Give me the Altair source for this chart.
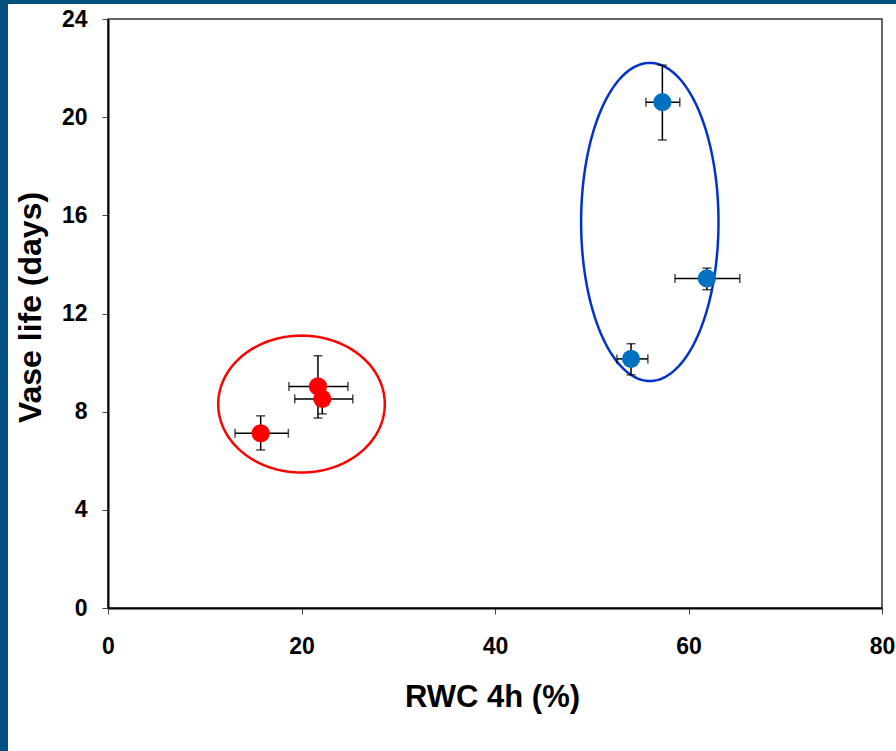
import altair as alt
import pandas as pd
import numpy as np

# ---- data ----
red_x = [15.78, 21.7, 22.15]
red_y = [7.12, 9.03, 8.52]
red_xlo = [13.13, 18.7, 19.3]
red_xhi = [18.64, 24.8, 25.3]
red_ylo = [6.44, 7.74, 7.91]
red_yhi = [7.83, 10.28, 9.13]

blue_x = [57.3, 61.9, 54.06]
blue_y = [20.61, 13.43, 10.15]
blue_xlo = [55.6, 58.6, 52.6]
blue_xhi = [59.1, 65.3, 55.8]
blue_ylo = [19.07, 12.97, 9.50]
blue_yhi = [22.12, 13.85, 10.77]

# grouping ellipses: centre (x, y) and radii (x, y) in data units
ell_groups = ["red", "blue"]
ell_cx = [20.0, 56.0]
ell_cy = [8.31, 15.73]
ell_rx = [8.61, 7.1]
ell_ry = [2.79, 6.48]

x_ticks = [0, 20, 40, 60, 80]
y_ticks = [0, 4, 8, 12, 16, 20, 24]
X_TITLE = "RWC 4h (%)"
Y_TITLE = "Vase life (days)"

RED = "#FF0000"
BLUE = "#0070C0"
RED_RING = "#FF0000"
BLUE_RING = "#0033CC"
FRAME_BLUE = "#03507E"

pts = pd.DataFrame({
    "x": red_x + blue_x,
    "y": red_y + blue_y,
    "xlo": red_xlo + blue_xlo,
    "xhi": red_xhi + blue_xhi,
    "ylo": red_ylo + blue_ylo,
    "yhi": red_yhi + blue_yhi,
    "grp": ["red"] * 3 + ["blue"] * 3,
})

rows = []
theta = np.linspace(0, 2 * np.pi, 181)
for g, cx, cy, rx, ry in zip(ell_groups, ell_cx, ell_cy, ell_rx, ell_ry):
    for i, t in enumerate(theta):
        rows.append({"ring": g + "_ring", "i": i, "ex": cx + rx * np.cos(t), "ey": cy + ry * np.sin(t)})
ell = pd.DataFrame(rows)

W, H = 774, 589
PL, PT = 108, 19

xscale = alt.Scale(domain=[0, 80], nice=False, zero=False)
yscale = alt.Scale(domain=[0, 24], nice=False, zero=False)

xaxis = alt.Axis(
    values=x_ticks, grid=False,
    domainColor="black", domainWidth=2, tickColor="#444", tickSize=6, tickWidth=1,
    labelFont="Liberation Sans", labelFontWeight="bold", labelFontSize=23, labelColor="black",
    labelPadding=21, labelFlush=False,
    titleFont="Liberation Sans", titleFontWeight="bold", titleFontSize=31, titleColor="black",
    titleX=384, titleY=98, titleBaseline="alphabetic", titleAnchor="middle", titleAlign="center",
)
yaxis = alt.Axis(
    values=y_ticks, grid=False,
    domainColor="black", domainWidth=2, tickColor="#444", tickSize=6, tickWidth=1,
    labelFont="Liberation Sans", labelFontWeight="bold", labelFontSize=23, labelColor="black",
    labelPadding=15, labelFlush=False,
    titleFont="Liberation Sans", titleFontWeight="bold", titleFontSize=32, titleColor="black",
    titleX=-78, titleY=288, titleBaseline="middle", titleAlign="center", titleAngle=-90,
)

rings = alt.Chart(ell).mark_line(strokeWidth=2.5).encode(
    x=alt.X("ex:Q", scale=xscale, axis=xaxis, title=X_TITLE),
    y=alt.Y("ey:Q", scale=yscale, axis=yaxis, title=Y_TITLE),
    detail="ring:N",
    order="i:Q",
    color=alt.Color("ring:N", scale=alt.Scale(domain=["red_ring", "blue_ring"], range=[RED_RING, BLUE_RING]), legend=None),
)

base = alt.Chart(pts)
xerr = base.mark_errorbar(ticks={"size": 9}, color="black", thickness=1.5).encode(
    x=alt.X("xlo:Q", scale=xscale, title=X_TITLE), x2="xhi:Q",
    y=alt.Y("y:Q", scale=yscale, title=Y_TITLE),
)
yerr = base.mark_errorbar(ticks={"size": 9}, color="black", thickness=1.5).encode(
    y=alt.Y("ylo:Q", scale=yscale, title=Y_TITLE), y2="yhi:Q",
    x=alt.X("x:Q", scale=xscale, title=X_TITLE),
)
dots = base.mark_circle(size=330, opacity=1).encode(
    x=alt.X("x:Q", scale=xscale, title=X_TITLE),
    y=alt.Y("y:Q", scale=yscale, title=Y_TITLE),
    color=alt.Color("grp:N", scale=alt.Scale(domain=["red", "blue"], range=[RED, BLUE]), legend=None),
)

frame_data = alt.Data(values=[{"k": 1}])
left_strip = alt.Chart(frame_data).mark_rect(color=FRAME_BLUE).encode(
    x=alt.value(-PL), x2=alt.value(-PL + 8), y=alt.value(-PT), y2=alt.value(751 - PT)
)
top_strip = alt.Chart(frame_data).mark_rect(color=FRAME_BLUE).encode(
    x=alt.value(-PL), x2=alt.value(896 - PL), y=alt.value(-PT), y2=alt.value(-PT + 4)
)

chart = alt.layer(rings, xerr, yerr, dots, left_strip, top_strip).resolve_scale(
    color="independent"
).properties(
    width=W, height=H,
    autosize=alt.AutoSizeParams(type="none"),
    padding={"left": PL, "top": PT, "right": 896 - PL - W, "bottom": 751 - PT - H},
    background="white",
).configure_view(stroke="#333", strokeWidth=1.5)

chart.save("out.html", embed_options={"renderer": "svg", "actions": False})
